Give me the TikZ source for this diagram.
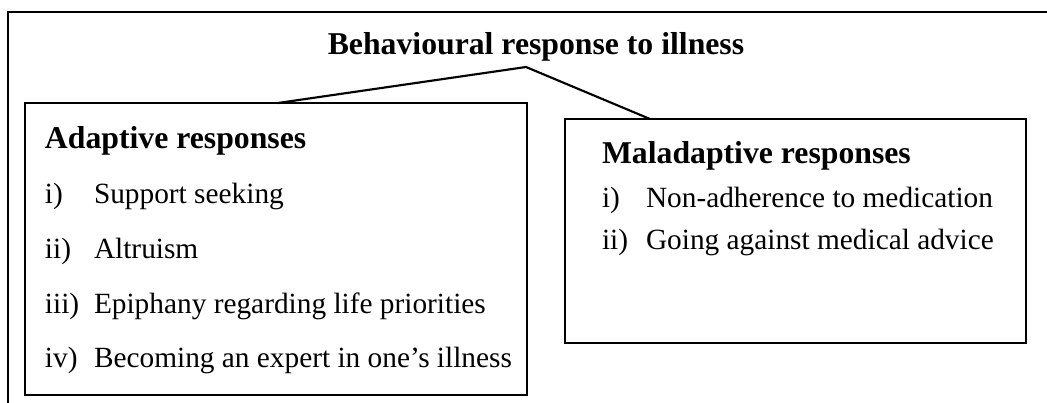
\documentclass[tikz,border=0pt]{standalone}
\usepackage{fontspec}
\setmainfont{Liberation Serif}
\usetikzlibrary{positioning}

\begin{document}
\begin{tikzpicture}[x=0.75pt,y=-0.75pt,% pixel-like units, y runs down
			every node/.style={inner sep=0pt,outer sep=0pt},
			box/.style={rectangle,draw=black,line width=1.6pt,anchor=north west},
			head/.style={anchor=base west,font=\fontsize{23.8}{28}\selectfont\bfseries},
			item/.style={anchor=base west,font=\fontsize{22}{26}\selectfont},
			every edge/.style={draw,line width=1.6pt}
		]
		\useasboundingbox (0,0) rectangle (1047,403);
		% open outer frame
		\draw[line width=1.6pt] (8,403) -- (8,12) -- (1047,12);
		\node[anchor=base,font=\fontsize{23.8}{28}\selectfont\bfseries](T) at (536,55){Behavioural response to illness};
		\node[box,minimum width=376.5pt,minimum height=219pt](A) at (25,103){};
		\node[box,minimum width=345.75pt,minimum height=168pt](M) at (565,119){};
		\coordinate (T0) at (526,67);
		\coordinate (A0) at (278,103);
		\coordinate (M0) at (650,119);
		% adaptive
		\node[head](A1) at (45,148){Adaptive responses};
		\node[item](A2) at (45,203){i)};
		\node[item](A3) at (94,203){Support seeking};
		\node[item](A4) at (45,258){ii)};
		\node[item](A5) at (94,258){Altruism};
		\node[item](A6) at (45,313){iii)};
		\node[item](A7) at (94,313){Epiphany regarding life priorities};
		\node[item](A8) at (45,367){iv)};
		\node[item](A9) at (94,367){Becoming an expert in one’s illness};
		% maladaptive
		\node[head](M1) at (602,163){Maladaptive responses};
		\node[item](M2) at (602,207){i)};
		\node[item](M3) at (646,207){Non-adherence to medication};
		\node[item](M4) at (602,249){ii)};
		\node[item](M5) at (646,249){Going against medical advice};
		\path
		(T0)edge (A0)
		(T0)edge (M0)
		;
	\end{tikzpicture}
\end{document}
